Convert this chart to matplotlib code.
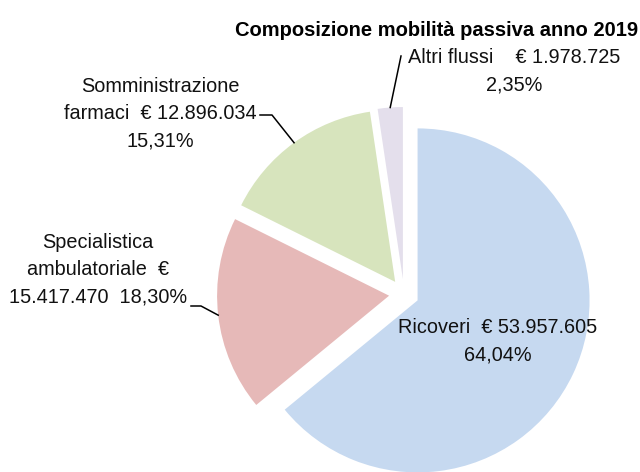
import numpy as np
import matplotlib
matplotlib.use("Agg")
import matplotlib.pyplot as plt

plt.rcParams['font.family'] = ['Liberation Sans', 'DejaVu Sans']

# === data
categories = ["Ricoveri", "Specialistica ambulatoriale", "Somministrazione farmaci", "Altri flussi"]
values = [53957605, 15417470, 12896034, 1978725]
colors = ["#C6D9F0", "#E6B9B8", "#D7E4BD", "#E4DFEC"]
label_fmt = [
    "Ricoveri  € {v}\n{p}",
    "Specialistica\nambulatoriale  €\n{v}  {p}",
    "Somministrazione\nfarmaci  € {v}\n{p}",
    "Altri flussi    € {v}\n{p}",
]
title = "Composizione mobilità passiva anno 2019"

# layout (pixels of the 640x472 picture)
W, H = 640, 472
CX, CY, R = 404, 294, 172
label_pos = [(498, 341), (98, 270), (160, 114), (514, 71)]
# leader: (start point, optional horizontal knee) in pixels, None = no leader
leaders = [None, [(191, 306), (201, 306)], [(260, 115), (272, 115)], [(401, 56)]]


def px(x, y):
    return (x - CX) / R, (CY - y) / R


def it_num(v):
    return f"{v:,}".replace(",", ".")


def it_pct(p):
    return f"{p:.2f}".replace(".", ",") + "%"


fig = plt.figure(figsize=(6.4, 4.72), dpi=100)
ax = fig.add_axes([0, 0, 1, 1])
wedges, _ = ax.pie(values, colors=colors, startangle=90, counterclock=False,
                   explode=[15 / R] * 4, radius=1,
                   wedgeprops=dict(linewidth=0))
x0, y0 = px(0, H)
x1, y1 = px(W, 0)
ax.set_xlim(x0, x1)
ax.set_ylim(y0, y1)
ax.set_aspect('equal')
ax.axis('off')

total = sum(values)
for i, w in enumerate(wedges):
    pct = values[i] / total * 100
    txt = label_fmt[i].format(v=it_num(values[i]), p=it_pct(pct))
    lx, ly = px(*label_pos[i])
    ax.text(lx, ly, txt, ha='center', va='center', fontsize=14.3,
            color='#111111', linespacing=1.55)
    if leaders[i] is None:
        continue
    mid = np.deg2rad((w.theta1 + w.theta2) / 2)
    ex, ey = w.center[0] + w.r * np.cos(mid), w.center[1] + w.r * np.sin(mid)
    pts = [px(*p) for p in leaders[i]] + [(ex, ey)]
    ax.plot([p[0] for p in pts], [p[1] for p in pts], color='black', lw=1.1)

fig.text(638 / W, 1 - 30 / H, title, ha='right', va='center',
         fontsize=14.5, fontweight='bold', color='black')

fig.savefig("out.png", dpi=100)
